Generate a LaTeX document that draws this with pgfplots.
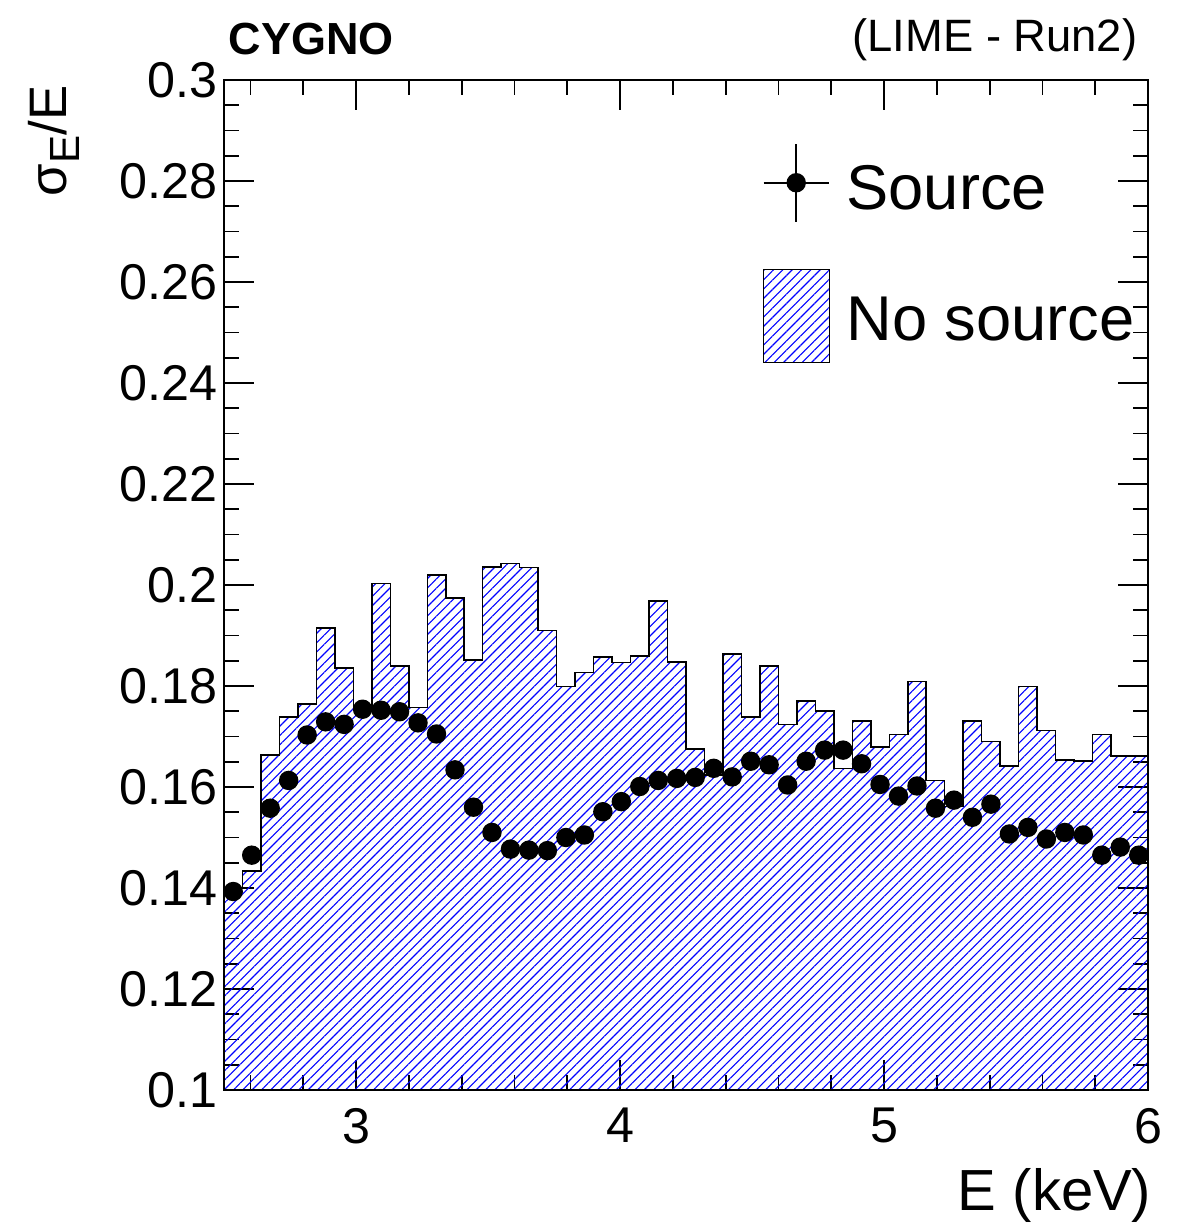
\documentclass[border=0pt]{standalone}
\usepackage{fontspec}
\setmainfont{Liberation Sans}
\usepackage{pgfplots}
\usepackage{pgfplotstable}
\pgfplotsset{compat=1.18}
\usetikzlibrary{patterns.meta}

% Energy resolution without source: histogram, 50 bins of 0.07 keV (left edges)
\pgfplotstableread{
x     y
2.50  0.1400
2.57  0.1434
2.64  0.1663
2.71  0.1739
2.78  0.1764
2.85  0.1915
2.92  0.1836
2.99  0.1757
3.06  0.2003
3.13  0.1840
3.20  0.1757
3.27  0.2020
3.34  0.1974
3.41  0.1851
3.48  0.2036
3.55  0.2043
3.62  0.2035
3.69  0.1910
3.76  0.1799
3.83  0.1827
3.90  0.1857
3.97  0.1847
4.04  0.1859
4.11  0.1968
4.18  0.1848
4.25  0.1675
4.32  0.1624
4.39  0.1863
4.46  0.1739
4.53  0.1840
4.60  0.1724
4.67  0.1770
4.74  0.1750
4.81  0.1637
4.88  0.1731
4.95  0.1679
5.02  0.1704
5.09  0.1809
5.16  0.1613
5.23  0.1561
5.30  0.1731
5.37  0.1690
5.44  0.1642
5.51  0.1799
5.58  0.1712
5.65  0.1653
5.72  0.1651
5.79  0.1704
5.86  0.1661
5.93  0.1661
6.00  0.1661
}\nosource

% Energy resolution with source: bin centres
\pgfplotstableread{
x      y
2.535  0.1393
2.605  0.1465
2.675  0.1558
2.745  0.1613
2.815  0.1703
2.885  0.1729
2.955  0.1724
3.025  0.1754
3.095  0.1752
3.165  0.1749
3.235  0.1727
3.305  0.1705
3.375  0.1634
3.445  0.1560
3.515  0.1510
3.585  0.1477
3.655  0.1475
3.725  0.1474
3.795  0.1500
3.865  0.1505
3.935  0.1551
4.005  0.1571
4.075  0.1601
4.145  0.1613
4.215  0.1617
4.285  0.1619
4.355  0.1637
4.425  0.1620
4.495  0.1651
4.565  0.1644
4.635  0.1604
4.705  0.1651
4.775  0.1673
4.845  0.1673
4.915  0.1646
4.985  0.1605
5.055  0.1582
5.125  0.1602
5.195  0.1558
5.265  0.1574
5.335  0.1540
5.405  0.1566
5.475  0.1507
5.545  0.1520
5.615  0.1497
5.685  0.1510
5.755  0.1505
5.825  0.1465
5.895  0.1481
5.965  0.1465
}\withsource

\tikzset{hatchfill/.style={pattern={Lines[angle=45,distance=0.66mm,line width=0.11mm]}, pattern color=blue}}

\begin{document}
\begin{tikzpicture}
\useasboundingbox (0,0) rectangle (119mm,123mm);
\begin{axis}[
  at={(22.4mm,14mm)}, anchor=south west,
  scale only axis, width=92.4mm, height=101mm,
  xmin=2.5, xmax=6, ymin=0.1, ymax=0.3,
  axis line style={line width=0.2mm},
  every tick/.style={black, line width=0.18mm},
  major tick length=3mm, minor tick length=1.5mm,
  tick align=inside,
  xtick={3,4,5,6}, xticklabels={3,4,5,6},
  minor xtick={2.6,2.8,3.2,3.4,3.6,3.8,4.2,4.4,4.6,4.8,5.2,5.4,5.6,5.8},
  ytick={0.1,0.12,0.14,0.16,0.18,0.2,0.22,0.24,0.26,0.28,0.3},
  yticklabels={0.1,0.12,0.14,0.16,0.18,0.2,0.22,0.24,0.26,0.28,0.3},
  minor ytick={0.105,0.11,0.115,0.125,0.13,0.135,0.145,0.15,0.155,0.165,0.17,0.175,
    0.185,0.19,0.195,0.205,0.21,0.215,0.225,0.23,0.235,0.245,0.25,0.255,
    0.265,0.27,0.275,0.285,0.29,0.295},
  ticklabel style={font=\fontsize{14.3}{16}\selectfont},
  xticklabel style={yshift=-0.6mm},
  yticklabel style={xshift=0.6mm},
  reverse legend,
  legend cell align=left,
  legend style={at={(rel axis cs:0.5833,0.9376)}, anchor=north west,
    draw=none, fill=none, inner sep=0pt, outer sep=0pt,
    row sep=4.6mm, column sep=1.6mm,
    nodes={inner sep=0pt},
    font=\fontsize{18}{20}\selectfont},
]
\addplot[const plot, draw=black, line width=0.15mm, hatchfill,
  legend image code/.code={
    \draw[black, line width=0.15mm, hatchfill] (0mm,-4.05mm) rectangle (6.6mm,5.25mm);
  }] table[x=x,y=y]{\nosource} \closedcycle;
\addlegendentry{No source}
\addplot[only marks, mark=*, mark size=0.9mm, mark options={fill=black, draw=black},
  legend image code/.code={
    \draw[black, line width=0.15mm] (0mm,0.75mm) -- (6.5mm,0.75mm);
    \draw[black, line width=0.15mm] (3.25mm,-3.15mm) -- (3.25mm,4.65mm);
    \fill[black] (3.25mm,0.75mm) circle (0.9mm);
  }] table[x=x,y=y]{\withsource};
\addlegendentry{Source}
\end{axis}
\node[anchor=base west, inner sep=0pt, font=\fontsize{12.8}{14}\selectfont\bfseries] at (22.8mm,117.5mm) {CYGNO};
\node[anchor=base east, font=\fontsize{12.9}{14}\selectfont, inner sep=0pt] at (113.8mm,117.8mm) {(LIME - Run2)};
\node[anchor=base east, font=\fontsize{16.5}{18}\selectfont, inner sep=0pt] at (115.2mm,1.9mm) {E (keV)};
\node[rotate=90, anchor=base east, inner sep=0pt, font=\fontsize{15}{17}\selectfont] at (6.7mm,114.5mm)
  {σ\raisebox{-0.45ex}{\fontsize{12}{12}\selectfont E}/E};
\end{tikzpicture}
\end{document}
